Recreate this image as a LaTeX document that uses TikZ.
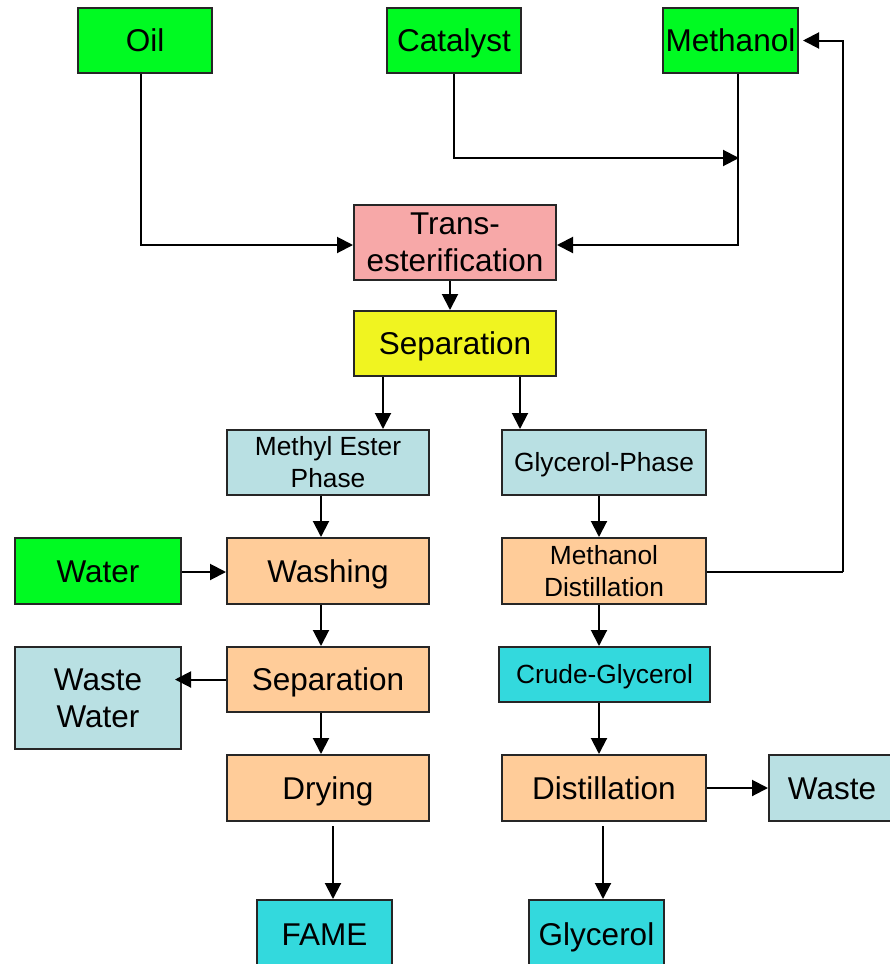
\documentclass[tikz,border=0pt]{standalone}
\usepackage{fontspec}
\setmainfont{Liberation Sans}
\usetikzlibrary{arrows.meta}
\definecolor{cgreen}{RGB}{0,250,34}
\definecolor{cpink}{RGB}{247,168,168}
\definecolor{cyellow}{RGB}{240,244,32}
\definecolor{cblue}{RGB}{185,224,227}
\definecolor{corange}{RGB}{255,204,153}
\definecolor{ccyan}{RGB}{51,217,221}
\tikzset{
  box/.style={draw=black!85, line width=2pt, inner sep=0pt, align=center,
    font=\fontsize{31.5}{37}\selectfont},
  onebox/.style={box, text height=22.6pt, text depth=0pt},
  smallbox/.style={box, font=\fontsize{26.3}{32}\selectfont},
  smallone/.style={smallbox, text height=18.9pt, text depth=0pt},
  arr/.style={line width=2pt, -{Triangle[length=16pt,width=16pt]}},
  ln/.style={line width=2pt}
}
\begin{document}
\begin{tikzpicture}[x=1pt,y=-1pt]
\useasboundingbox (0,0) rectangle (890,964);
\clip (0,0) rectangle (890,964);
% nodes
\node[onebox, fill=cgreen, minimum width=134, minimum height=65] (oil) at (145,40.5) {Oil};
\node[onebox, fill=cgreen, minimum width=134, minimum height=65] (cat) at (454,40.5) {Catalyst};
\node[onebox, fill=cgreen, minimum width=135, minimum height=65] (meth) at (730.5,40.5) {Methanol};
\node[box, fill=cpink, minimum width=202, minimum height=75] (trans) at (455,242.5) {Trans-\\esterification};
\node[onebox, fill=cyellow, minimum width=202, minimum height=65] (sep1) at (455,343.5) {Separation};
\node[smallbox, fill=cblue, minimum width=202, minimum height=65] (mep) at (328,462.5) {Methyl Ester\\Phase};
\node[smallone, fill=cblue, minimum width=204, minimum height=65] (gp) at (604,462.5) {Glycerol-Phase};
\node[onebox, fill=cgreen, minimum width=166, minimum height=66] (water) at (98,571) {Water};
\node[onebox, fill=corange, minimum width=202, minimum height=66] (wash) at (328,571) {Washing};
\node[smallbox, fill=corange, minimum width=204, minimum height=66] (md) at (604,571) {Methanol\\Distillation};
\node[box, fill=cblue, minimum width=166, minimum height=102] (ww) at (98,698) {Waste\\Water};
\node[onebox, fill=corange, minimum width=202, minimum height=65] (sep2) at (328,679.5) {Separation};
\node[smallone, fill=ccyan, minimum width=211, minimum height=55] (crude) at (604.5,674.5) {Crude-Glycerol};
\node[onebox, fill=corange, minimum width=202, minimum height=66] (dry) at (328,788) {Drying};
\node[onebox, fill=corange, minimum width=204, minimum height=66] (dist) at (604,788) {Distillation};
\node[onebox, fill=cblue, minimum width=128, minimum height=66] (waste) at (833,788) {\hspace*{-2pt}Waste};
\node[onebox, fill=ccyan, minimum width=135, minimum height=68] (fame) at (324.5,934) {FAME};
\node[onebox, fill=ccyan, minimum width=135, minimum height=68] (gly) at (596.5,934) {Glycerol};
% helper coordinates
\coordinate (join) at (739,158);
\coordinate (ret) at (843,572);
\coordinate (wwin) at (175,680);
% connectors
\draw[arr] ([xshift=-4pt]oil.south) |- ([yshift=-2.5pt]trans.west);
\draw[arr] (cat.south) |- (join);
\draw[arr] ([xshift=7.5pt]meth.south) |- ([yshift=-2.5pt]trans.east);
\draw[arr] ([xshift=-5pt]trans.south) -- ([xshift=-5pt]sep1.north);
\draw[arr] ([xshift=-72pt]sep1.south) -- ([xshift=55pt]mep.north);
\draw[arr] ([xshift=65pt]sep1.south) -- ([xshift=-84pt]gp.north);
\draw[arr] ([xshift=-7pt]mep.south) -- ([xshift=-7pt]wash.north);
\draw[arr] ([yshift=-1pt]water.east) -- ([yshift=-1pt]wash.west);
\draw[arr] ([xshift=-7pt]wash.south) -- ([xshift=-7pt]sep2.north);
\draw[arr] (sep2.west) -- (sep2.west -| wwin);
\draw[arr] ([xshift=-7pt]sep2.south) -- ([xshift=-7pt]dry.north);
\draw[arr] ([xshift=5pt,yshift=-4pt]dry.south) -- ([xshift=8.5pt]fame.north);
\draw[arr] ([xshift=-5pt]gp.south) -- ([xshift=-5pt]md.north);
\draw[ln] ([yshift=-1pt]md.east) -- (ret);
\draw[arr] (ret) |- ([xshift=4pt]meth.east);
\draw[arr] ([xshift=-5pt]md.south) -- ([xshift=-5.5pt]crude.north);
\draw[arr] ([xshift=-5.5pt]crude.south) -- ([xshift=-5pt]dist.north);
\draw[arr] (dist.east) -- (dist.east -| waste.west);
\draw[arr] ([xshift=-1pt,yshift=-4pt]dist.south) -- ([xshift=6.5pt]gly.north);
\end{tikzpicture}
\end{document}
